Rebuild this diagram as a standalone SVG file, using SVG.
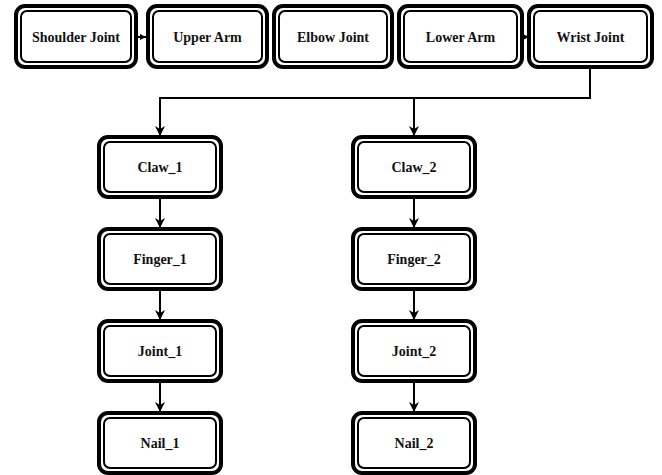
<svg xmlns="http://www.w3.org/2000/svg" width="662" height="475" viewBox="0 0 662 475">
<defs>
<marker id="ah" viewBox="0 0 10 10" refX="10" refY="5" markerWidth="10" markerHeight="10" markerUnits="userSpaceOnUse" orient="auto"><path d="M0,0 L10,5 L0,10 L3,5 z" fill="#000"/></marker>
<marker id="ahs" viewBox="0 0 10 10" refX="10" refY="5" markerWidth="6" markerHeight="8" markerUnits="userSpaceOnUse" orient="auto"><path d="M0,0 L10,5 L0,10 z" fill="#000"/></marker>
</defs>
<style>
.o{fill:#fff;stroke:#000;stroke-width:4}
.i{fill:none;stroke:#000;stroke-width:2}
.t{font-family:"Liberation Serif","Times New Roman",serif;font-weight:bold;font-size:14px;fill:#111;text-anchor:middle;dominant-baseline:central}
.c{fill:none;stroke:#000;stroke-width:2}
</style>
<rect width="662" height="475" fill="#fff"/>
<g id="connectors">
<path class="c" d="M137,37 L146,37" marker-end="url(#ahs)"/>
<path class="c" d="M523,37 L529,37" marker-end="url(#ahs)"/>
<path class="c" d="M590,68 L590,98 L160,98 L160,136" marker-end="url(#ah)"/>
<path class="c" d="M414,98 L414,136" marker-end="url(#ah)"/>
<path class="c" d="M160,198 L160,228" marker-end="url(#ah)"/>
<path class="c" d="M160,290 L160,320" marker-end="url(#ah)"/>
<path class="c" d="M160,382 L160,412" marker-end="url(#ah)"/>
<path class="c" d="M414,198 L414,228" marker-end="url(#ah)"/>
<path class="c" d="M414,290 L414,320" marker-end="url(#ah)"/>
<path class="c" d="M414,382 L414,412" marker-end="url(#ah)"/>
</g>
<g id="shoulder"><rect class="o" x="16" y="6" width="120" height="61" rx="9"/><rect class="i" x="21" y="11" width="110" height="51" rx="6"/><text class="t" x="76" y="37">Shoulder Joint</text></g>
<g id="upperarm"><rect class="o" x="148" y="6" width="119" height="61" rx="9"/><rect class="i" x="153" y="11" width="109" height="51" rx="6"/><text class="t" x="207.5" y="37">Upper Arm</text></g>
<g id="elbow"><rect class="o" x="274" y="6" width="118" height="61" rx="9"/><rect class="i" x="279" y="11" width="108" height="51" rx="6"/><text class="t" x="333" y="37">Elbow Joint</text></g>
<g id="lowerarm"><rect class="o" x="399" y="6" width="123" height="61" rx="9"/><rect class="i" x="404" y="11" width="113" height="51" rx="6"/><text class="t" x="460.5" y="37">Lower Arm</text></g>
<g id="wrist"><rect class="o" x="529" y="6" width="123" height="61" rx="9"/><rect class="i" x="534" y="11" width="113" height="51" rx="6"/><text class="t" x="590.5" y="37">Wrist Joint</text></g>
<g id="claw1"><rect class="o" x="99" y="137" width="122" height="60" rx="9"/><rect class="i" x="104" y="142" width="112" height="50" rx="6"/><text class="t" x="160" y="167">Claw_1</text></g>
<g id="finger1"><rect class="o" x="99" y="229" width="122" height="60" rx="9"/><rect class="i" x="104" y="234" width="112" height="50" rx="6"/><text class="t" x="160" y="259">Finger_1</text></g>
<g id="joint1"><rect class="o" x="99" y="321" width="122" height="60" rx="9"/><rect class="i" x="104" y="326" width="112" height="50" rx="6"/><text class="t" x="160" y="351">Joint_1</text></g>
<g id="nail1"><rect class="o" x="99" y="413" width="122" height="60" rx="9"/><rect class="i" x="104" y="418" width="112" height="50" rx="6"/><text class="t" x="160" y="443">Nail_1</text></g>
<g id="claw2"><rect class="o" x="353" y="137" width="122" height="60" rx="9"/><rect class="i" x="358" y="142" width="112" height="50" rx="6"/><text class="t" x="414" y="167">Claw_2</text></g>
<g id="finger2"><rect class="o" x="353" y="229" width="122" height="60" rx="9"/><rect class="i" x="358" y="234" width="112" height="50" rx="6"/><text class="t" x="414" y="259">Finger_2</text></g>
<g id="joint2"><rect class="o" x="353" y="321" width="122" height="60" rx="9"/><rect class="i" x="358" y="326" width="112" height="50" rx="6"/><text class="t" x="414" y="351">Joint_2</text></g>
<g id="nail2"><rect class="o" x="353" y="413" width="122" height="60" rx="9"/><rect class="i" x="358" y="418" width="112" height="50" rx="6"/><text class="t" x="414" y="443">Nail_2</text></g>
</svg>
